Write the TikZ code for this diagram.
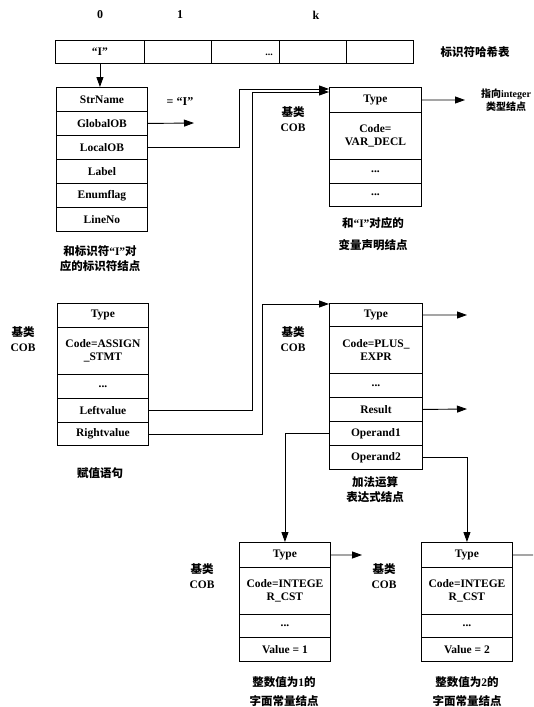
\documentclass[tikz,border=0pt]{standalone}
\usepackage{fontspec}
\setmainfont{Liberation Serif}
\newfontfamily\cjk{Noto Sans CJK SC}
\usetikzlibrary{arrows.meta}
\newcommand{\zh}[1]{{\cjk\bfseries #1}}
\tikzset{
  box/.style={draw, line width=0.9pt, anchor=north west, inner sep=0pt, align=center,
    font=\bfseries\fontsize{11.5}{13.5}\selectfont},
  cell/.style n args={2}{box, minimum width=#1, minimum height=#2},
  lbl/.style={font=\bfseries\fontsize{11.5}{15}\selectfont, align=center, inner sep=0pt},
  num/.style={font=\bfseries\fontsize{12}{14}\selectfont, inner sep=0pt},
  arr/.style={line width=0.9pt, -{Triangle[length=10pt,width=7pt]}},
  ln/.style={line width=0.9pt}
}
\begin{document}
\begin{tikzpicture}[x=1pt,y=-1pt]
\useasboundingbox (0,0) rectangle (533,707);

% index labels
\node[num] (i0) at (100,15) {0};
\node[num] (i1) at (180,15) {1};
\node[num] (ik) at (316,15) {k};

% hash table
\node[cell={89pt}{23pt}] (h0) at (55,40) {“I”};
\node[cell={67pt}{23pt}] (h1) at (144,40) {};
\node[cell={68pt}{23pt}] (h2) at (211,40) {};
\node[cell={67pt}{23pt}] (h3) at (279,40) {};
\node[cell={67pt}{23pt}] (h4) at (346,40) {};
\node[num, font=\bfseries\fontsize{10}{12}\selectfont] (hdots) at (269,55) {...};
\node[lbl] (hname) at (475,52) {\zh{标识符哈希表}};

% identifier node
\node[cell={91pt}{24pt}] (id-str) at (56,87) {StrName};
\node[cell={91pt}{24pt}] (id-glob) at (56,111) {GlobalOB};
\node[cell={91pt}{24pt}] (id-local) at (56,135) {LocalOB};
\node[cell={91pt}{24pt}] (id-label) at (56,159) {Label};
\node[cell={91pt}{24pt}] (id-enum) at (56,183) {Enumflag};
\node[cell={91pt}{24pt}] (id-line) at (56,207) {LineNo};
\node[num] (eqI) at (180,102) {= “I”};
\node[lbl] (idcap) at (100,259) {\zh{和标识符}“I”\zh{对}\\\zh{应的标识符结点}};

% variable declaration node
\node[cell={92pt}{25pt}] (var-type) at (329,87) {Type};
\node[cell={92pt}{47pt}] (var-code) at (329,112) {Code=\\VAR\_DECL};
\node[cell={92pt}{24pt}] (var-d1) at (329,159) {...};
\node[cell={92pt}{23pt}] (var-d2) at (329,183) {...};
\node[lbl] (varcob) at (293,119) {\zh{基类}\\COB};
\node[lbl, font=\bfseries\fontsize{10}{13}\selectfont] (vartype) at (506,100) {\zh{指向}integer\\\zh{类型结点}};
\node[lbl, font=\bfseries\fontsize{11.5}{22}\selectfont] (varcap) at (373,234) {\zh{和}“I”\zh{对应的}\\\zh{变量声明结点}};

% assignment node
\node[cell={91pt}{24pt}] (as-type) at (57,303) {Type};
\node[cell={91pt}{47pt}] (as-code) at (57,327) {Code=ASSIGN\\\_STMT};
\node[cell={91pt}{24pt}] (as-dots) at (57,374) {...};
\node[cell={91pt}{24pt}] (as-left) at (57,398) {Leftvalue};
\node[cell={91pt}{23pt}] (as-right) at (57,422) {Rightvalue};
\node[lbl] (ascob) at (23,339) {\zh{基类}\\COB};
\node[lbl] (ascap) at (100,473) {\zh{赋值语句}};

% plus expression node
\node[cell={93pt}{23pt}] (pl-type) at (329,303) {Type};
\node[cell={93pt}{47pt}] (pl-code) at (329,326) {Code=PLUS\_\\EXPR};
\node[cell={93pt}{24pt}] (pl-dots) at (329,373) {...};
\node[cell={93pt}{24pt}] (pl-res) at (329,397) {Result};
\node[cell={93pt}{24pt}] (pl-op1) at (329,421) {Operand1};
\node[cell={93pt}{24pt}] (pl-op2) at (329,445) {Operand2};
\node[lbl] (plcob) at (293,339) {\zh{基类}\\COB};
\node[lbl] (plcap) at (375,490) {\zh{加法运算}\\\zh{表达式结点}};

% integer constant node 1
\node[cell={91pt}{25pt}] (b1-type) at (239,542) {Type};
\node[cell={91pt}{47pt}] (b1-code) at (239,567) {Code=INTEGE\\R\_CST};
\node[cell={91pt}{23pt}] (b1-dots) at (239,614) {...};
\node[cell={91pt}{24pt}] (b1-val) at (239,637) {Value = 1};
\node[lbl] (b1cob) at (202,576) {\zh{基类}\\COB};
\node[lbl, font=\bfseries\fontsize{11.5}{19}\selectfont] (b1cap) at (284,692) {\zh{整数值为}1\zh{的}\\\zh{字面常量结点}};

% integer constant node 2
\node[cell={91pt}{25pt}] (b2-type) at (421,542) {Type};
\node[cell={91pt}{47pt}] (b2-code) at (421,567) {Code=INTEGE\\R\_CST};
\node[cell={91pt}{23pt}] (b2-dots) at (421,614) {...};
\node[cell={91pt}{24pt}] (b2-val) at (421,637) {Value = 2};
\node[lbl] (b2cob) at (384,576) {\zh{基类}\\COB};
\node[lbl, font=\bfseries\fontsize{11.5}{19}\selectfont] (b2cap) at (467,692) {\zh{整数值为}2\zh{的}\\\zh{字面常量结点}};

% free ends
\coordinate (glob-end) at (194,123);
\coordinate (vt-end) at (465,100);
\coordinate (pt-end) at (467,315);
\coordinate (pr-end) at (467,409);
\coordinate (b1-end) at (362,555);
\coordinate (b2-end) at (533,555);

% connectors
\draw[arr] (h0.south) -- (h0.south |- id-str.north);
\draw[arr] (id-glob.east) -- (glob-end);
\draw[arr] (id-local.east) -- ++(92,0) |- ([yshift=-2pt]var-type.north west);
\draw[arr] (as-left.east) -- ++(104,0) |- ([yshift=-5pt]var-type.north west);
\draw[arr] (as-right.east) -- ++(114,0) |- ([yshift=-1pt]pl-type.north west);
\draw[arr] (var-type.east) -- (vt-end);
\draw[arr] (pl-type.east) -- (pt-end);
\draw[arr] (pl-res.east) -- (pr-end);
\draw[arr] (pl-op1.west) -| (b1-type.north);
\draw[arr] (pl-op2.east) -| (b2-type.north);
\draw[arr] (b1-type.east) -- (b1-end);
\draw[ln] (b2-type.east) -- (b2-end);
\end{tikzpicture}
\end{document}
